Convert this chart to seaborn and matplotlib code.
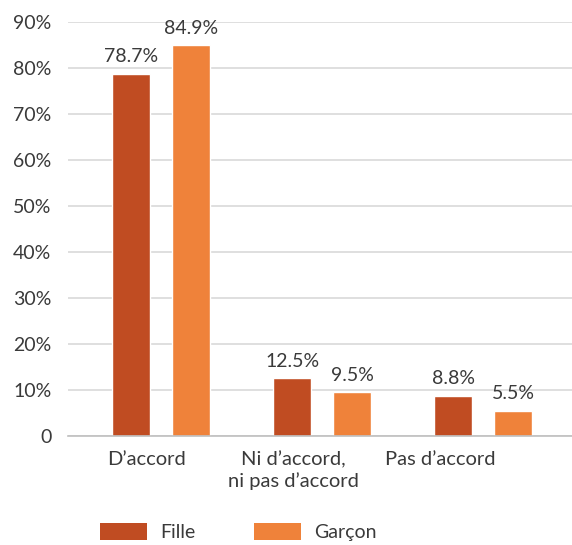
import matplotlib
matplotlib.use("Agg")
import matplotlib.pyplot as plt
import seaborn as sns
import pandas as pd
from matplotlib.patches import Patch

categories = ["D\u2019accord", "Ni d\u2019accord,\nni pas d\u2019accord", "Pas d\u2019accord"]
fille = [78.7, 12.5, 8.8]
garcon = [84.9, 9.5, 5.5]
series_names = ["Fille", "Gar\u00e7on"]
colors = ["#C04C22", "#EF823A"]
yticks = [0, 10, 20, 30, 40, 50, 60, 70, 80, 90]
ytick_labels = ["0"] + [f"{v}%" for v in yticks[1:]]

df = pd.DataFrame({
    "cat": categories * 2,
    "val": fille + garcon,
    "serie": [series_names[0]] * 3 + [series_names[1]] * 3,
})

sns.set_theme(style="white")
plt.rcParams["font.family"] = ["Lato", "DejaVu Sans"]
text_color = "#3A3A3A"

fig = plt.figure(figsize=(5.72, 5.45), dpi=100)
ax = fig.add_axes([0.119, 0.2, 0.881, 0.76])
sns.barplot(data=df, x="cat", y="val", hue="serie", palette=colors,
            width=0.746, gap=0.367, ax=ax, legend=False, saturation=1)

for cont in ax.containers:
    ax.bar_label(cont, labels=[f"{v:.1f}%" for v in cont.datavalues],
                 padding=6, fontsize=14, color=text_color)

ax.set_ylim(0, 90)
ax.set_xlim(-0.58, 2.55)
ax.set_yticks(yticks)
ax.set_yticklabels(ytick_labels, fontsize=14, color=text_color)
# category labels sit slightly left of their bar groups in the reference
ax.set_xticks([i * 0.91 - 0.09 for i in range(len(categories))])
ax.set_xticklabels(categories, fontsize=14.5, color=text_color)
ax.tick_params(axis="x", pad=11, length=0)
ax.tick_params(axis="y", pad=12, length=0)
ax.yaxis.grid(True, color="#D9D9D9", linewidth=1.2)
ax.set_axisbelow(True)
for s in ["top", "right", "left"]:
    ax.spines[s].set_visible(False)
ax.spines["bottom"].set_color("#BFBFBF")
ax.spines["bottom"].set_linewidth(1.2)
ax.set_xlabel("")
ax.set_ylabel("")

handles = [Patch(facecolor=c, edgecolor="none") for c in colors]
fig.legend(handles, series_names, loc="center", bbox_to_anchor=(0.417, 0.024),
           ncol=2, frameon=False, fontsize=14, handlelength=2.4, handleheight=1.0,
           columnspacing=3.0, handletextpad=0.7, labelcolor=text_color)

fig.savefig("out.png", dpi=100)
